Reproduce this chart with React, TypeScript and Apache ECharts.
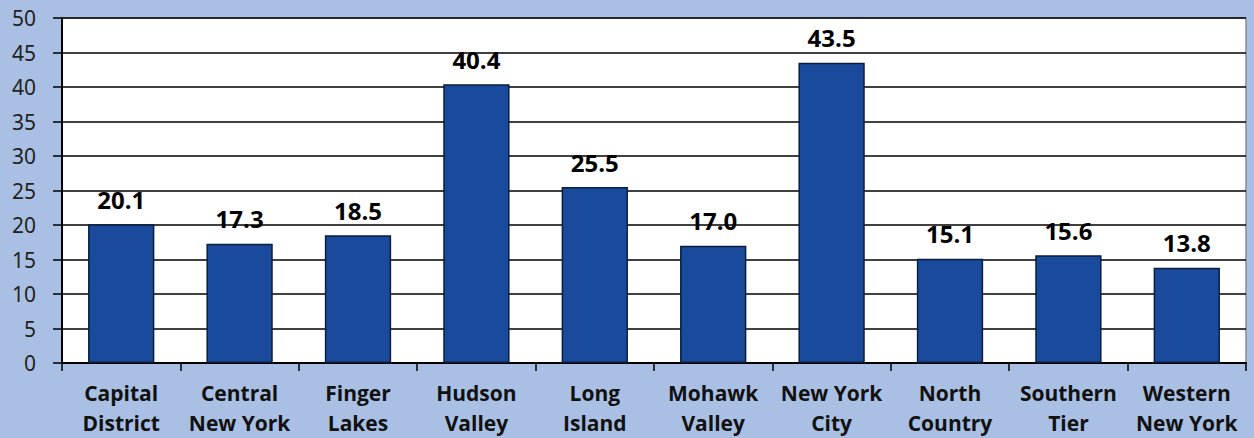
import React, { useEffect, useRef } from "react";
import * as echarts from "echarts";

const regions = [
  "Capital\nDistrict",
  "Central\nNew York",
  "Finger\nLakes",
  "Hudson\nValley",
  "Long\nIsland",
  "Mohawk\nValley",
  "New York\nCity",
  "North\nCountry",
  "Southern\nTier",
  "Western\nNew York",
];
const values = [20.1, 17.3, 18.5, 40.4, 25.5, 17.0, 43.5, 15.1, 15.6, 13.8];

export default function App() {
  const ref = useRef<HTMLDivElement>(null);
  useEffect(() => {
    const chart = echarts.init(ref.current!, null, { renderer: "svg" });
    chart.setOption({
      animation: false,
      backgroundColor: "#A9C0E4",
      grid: {
        left: 62,
        right: 8,
        top: 18,
        bottom: 74,
        show: true,
        backgroundColor: "#FFFFFF",
        borderColor: "#8C8C8C",
        borderWidth: 1.5,
      },
      xAxis: {
        type: "category",
        data: regions,
        axisLine: { show: true, lineStyle: { color: "#000", width: 2 } },
        axisTick: { show: true, alignWithLabel: false, length: 8, lineStyle: { color: "#000", width: 1.5 } },
        axisLabel: {
          color: "#111",
          fontFamily: "Open Sans",
          fontWeight: "bold",
          fontSize: 21,
          lineHeight: 30,
          margin: 15,
          interval: 0,
        },
      },
      yAxis: {
        type: "value",
        min: 0,
        max: 50,
        interval: 5,
        axisLine: { show: true, lineStyle: { color: "#000", width: 2 } },
        axisTick: { show: true, inside: false, length: 9, lineStyle: { color: "#000", width: 1.5 } },
        axisLabel: {
          color: "#222",
          fontFamily: "Noto Sans",
          fontSize: 21,
          margin: 26,
        },
        splitLine: { show: true, lineStyle: { color: "#000", width: 1.5 } },
      },
      series: [
        {
          type: "bar",
          data: values,
          barCategoryGap: "44%",
          itemStyle: { color: "#1A4A9C", borderColor: "#0A1E40", borderWidth: 1.5 },
          label: {
            show: true,
            position: "top",
            distance: 13,
            formatter: (p: any) => Number(p.value).toFixed(1),
            color: "#000",
            fontFamily: "Open Sans",
            fontWeight: "bold",
            fontSize: 24,
          },
        },
      ],
    });
    return () => chart.dispose();
  }, []);
  return <div ref={ref} style={{ width: 1254, height: 438, position: "absolute", left: 0, top: 0 }} />;
}
